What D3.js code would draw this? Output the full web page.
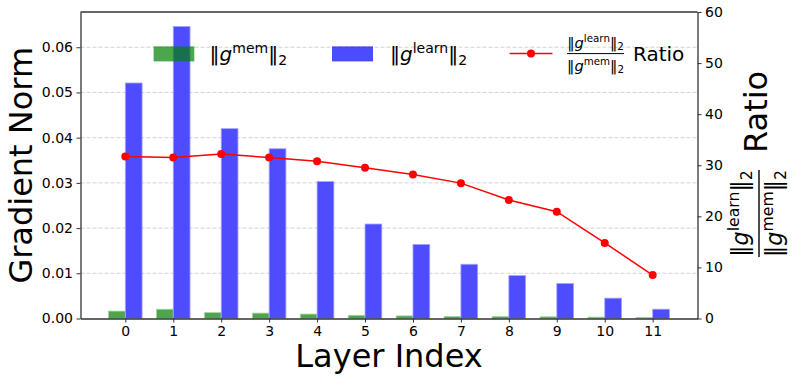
<!DOCTYPE html>
<html><head><meta charset="utf-8">
<script src="https://cdn.jsdelivr.net/npm/d3@7"></script>
<style>
html,body{margin:0;padding:0;background:#fff;}
svg{display:block;font-family:"DejaVu Sans",sans-serif;}
</style></head>
<body><svg id="chart" width="793" height="381"></svg>
<script>
const layers = [0,1,2,3,4,5,6,7,8,9,10,11];
const gMem = [0.00164,0.00205,0.0013,0.00119,0.00098,0.00071,0.00058,0.00045,0.00041,0.00037,0.0003,0.00024];
const gLearn = [0.0521,0.0646,0.0420,0.03755,0.0303,0.0209,0.0164,0.0120,0.0095,0.00775,0.0045,0.00206];
const ratio = [31.7,31.5,32.2,31.5,30.8,29.5,28.2,26.5,23.2,20.9,14.8,8.5];
const leftTicks = [0,0.01,0.02,0.03,0.04,0.05,0.06];
const rightTicks = [0,10,20,30,40,50,60];

const svg = d3.select("#chart");
const L = 80.5, R = 697.5, T = 12, B = 318.5;
const barW = 0.35;
const x = d3.scaleLinear().domain([-0.935, 11.935]).range([L, R]);
const yL = d3.scaleLinear().domain([0, 0.0678]).range([B, T]);
const yR = d3.scaleLinear().domain([0, 60]).range([B, T]);

// grid
svg.append("g").selectAll("line").data(leftTicks.filter(d=>d>0)).join("line")
  .attr("x1", L).attr("x2", R).attr("y1", d=>yL(d)).attr("y2", d=>yL(d))
  .attr("stroke", "#c8c8c8").attr("stroke-width", 0.8).attr("stroke-dasharray", "4,2");

// bars
svg.append("g").selectAll("rect").data(layers).join("rect")
  .attr("x", i=>x(i-barW)).attr("width", i=>x(barW)-x(0))
  .attr("y", i=>yL(gMem[i])).attr("height", i=>B-yL(gMem[i]))
  .attr("fill", "#4da64d").attr("stroke", "#a6d2a6").attr("stroke-width", 0.8);
svg.append("g").selectAll("rect").data(layers).join("rect")
  .attr("x", i=>x(i)).attr("width", i=>x(barW)-x(0))
  .attr("y", i=>yL(gLearn[i])).attr("height", i=>B-yL(gLearn[i]))
  .attr("fill", "#4d4dff").attr("stroke", "#a6a6ff").attr("stroke-width", 0.8);

// ratio line
svg.append("path").datum(layers)
  .attr("d", d3.line().x(i=>x(i)).y(i=>yR(ratio[i])))
  .attr("fill", "none").attr("stroke", "#ff0000").attr("stroke-width", 1.5);
svg.append("g").selectAll("circle").data(layers).join("circle")
  .attr("cx", i=>x(i)).attr("cy", i=>yR(ratio[i])).attr("r", 4).attr("fill", "#ff0000");

// axes
const fs = 14;
function styleAxis(g){
  g.selectAll("text").attr("font-size", fs).attr("font-family", "DejaVu Sans").attr("fill", "#000");
  g.selectAll("line").attr("stroke", "#333").attr("stroke-width", 1);
  g.select(".domain").attr("stroke", "#333").attr("stroke-width", 1.3);
}
svg.append("g").attr("transform", `translate(${L},0)`)
  .call(d3.axisLeft(yL).tickValues(leftTicks).tickFormat(d3.format(".2f")).tickSize(4).tickPadding(3.5).tickSizeOuter(0))
  .call(styleAxis);
svg.append("g").attr("transform", `translate(${R},0)`)
  .call(d3.axisRight(yR).tickValues(rightTicks).tickFormat(d3.format("d")).tickSize(4).tickPadding(3.5).tickSizeOuter(0))
  .call(styleAxis);
svg.append("g").attr("transform", `translate(0,${B})`)
  .call(d3.axisBottom(x).tickValues(layers).tickFormat(d3.format("d")).tickSize(4).tickPadding(4).tickSizeOuter(0))
  .call(styleAxis);
svg.append("line").attr("x1", L).attr("x2", R).attr("y1", T).attr("y2", T)
  .attr("stroke", "#333").attr("stroke-width", 1.3);

// math-like norm text
function normText(g, xx, yy, sup, size, anchor){
  const t = g.append("text").attr("x", xx).attr("y", yy).attr("font-size", size)
    .attr("text-anchor", anchor || "start").attr("fill", "#000");
  t.append("tspan").text("\u2016");
  t.append("tspan").attr("font-style", "italic").text("g");
  t.append("tspan").attr("font-size", size*0.7).attr("dy", -size*0.4).text(sup);
  t.append("tspan").attr("font-size", size).attr("dy", size*0.4).text("\u2016");
  t.append("tspan").attr("font-size", size*0.7).attr("dy", size*0.2).text("2");
  return t;
}

// axis labels
svg.append("text").attr("transform", `translate(32,${(T+B)/2}) rotate(-90)`)
  .attr("text-anchor", "middle").attr("font-size", 32).text("Gradient Norm");
svg.append("text").attr("x", (L+R)/2).attr("y", 367)
  .attr("text-anchor", "middle").attr("font-size", 32).text("Layer Index");

const rl = svg.append("g").attr("transform", "translate(767,257) rotate(-90)");
normText(rl, 43.5, -19, "learn", 22.4, "middle");
normText(rl, 43.5, 15, "mem", 22.4, "middle");
rl.append("line").attr("x1", 0).attr("x2", 87).attr("y1", -8).attr("y2", -8).attr("stroke", "#000").attr("stroke-width", 1.4);
rl.append("text").attr("x", 104).attr("y", 0).attr("font-size", 32).text("Ratio");

// legend
const lg = svg.append("g");
lg.append("rect").attr("x", 153.6).attr("y", 46.4).attr("width", 40.7).attr("height", 15)
  .attr("fill", "green").attr("fill-opacity", 0.7);
normText(lg, 209.6, 61, "mem", 20);
lg.append("rect").attr("x", 332).attr("y", 46.4).attr("width", 41).attr("height", 15)
  .attr("fill", "blue").attr("fill-opacity", 0.7);
normText(lg, 390, 61, "learn", 20);
lg.append("line").attr("x1", 509.6).attr("x2", 552.5).attr("y1", 53.6).attr("y2", 53.6)
  .attr("stroke", "#ff0000").attr("stroke-width", 1.5);
lg.append("circle").attr("cx", 531).attr("cy", 53.6).attr("r", 4).attr("fill", "#ff0000");
normText(lg, 595.5, 47.5, "learn", 14.7, "middle");
normText(lg, 595.5, 70.5, "mem", 14.7, "middle");
lg.append("line").attr("x1", 567).attr("x2", 624).attr("y1", 53.6).attr("y2", 53.6).attr("stroke", "#000").attr("stroke-width", 1);
lg.append("text").attr("x", 633).attr("y", 61).attr("font-size", 20).text("Ratio");
</script></body></html>
